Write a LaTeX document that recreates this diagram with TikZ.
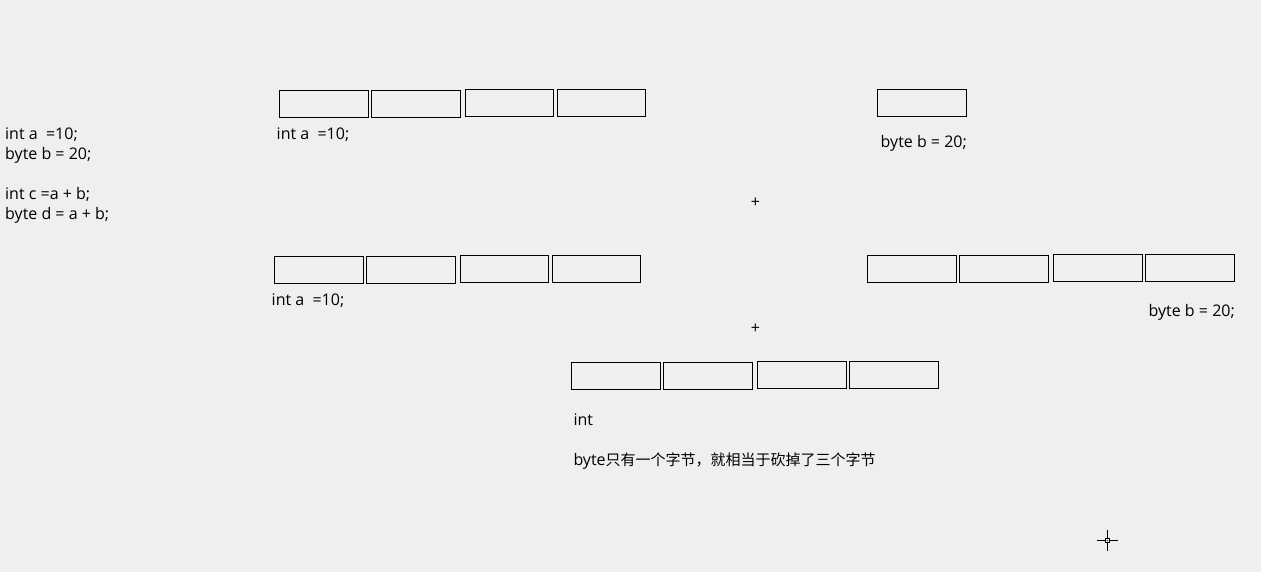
\documentclass[tikz,border=0pt]{standalone}
\usepackage{fontspec}
\setmainfont{Open Sans}
\newfontfamily\cjk{Noto Sans CJK SC}
\usetikzlibrary{positioning}
\definecolor{paper}{RGB}{239,239,239}

\begin{document}
\begin{tikzpicture}[x=1pt, y=-1pt, cell/.style={draw, line width=1pt, minimum width=88.5pt, minimum height=27pt, inner sep=0pt}, txt/.style={inner sep=0pt, font=\fontsize{16}{20}\selectfont}]
		\fill[paper] (0,0) rectangle (1261,572);
		\useasboundingbox (0,0) rectangle (1261,572);

		% code on the left
		\node[txt, anchor=base west, align=left] (code) at (5,219.5) {int a~~=10;\\byte b = 20;\\[19.5pt]int c =a + b;\\byte d = a + b;};

		% int a, top row
		\node[cell] (a1) at (324,104.3) {};
		\node[cell] (a2) [right=2.3pt of a1] {};
		\node[cell] (a3) [right=4.3pt of a2, yshift=1pt] {};
		\node[cell] (a4) [right=2.3pt of a3] {};
		\node[txt, anchor=base west] (la) at (276.5,140) {int a~~=10;};

		% byte b, top row
		\node[cell] (b1) at (921.8,103.3) {};
		\node[txt, anchor=base west] (lb) at (880.5,147.5) {byte b = 20;};

		\node[txt] (p1) at (755.5,203) {+};

		% int a, middle row
		\node[cell] (c1) at (319,270.3) {};
		\node[cell] (c2) [right=2.3pt of c1] {};
		\node[cell] (c3) [right=4.3pt of c2, yshift=1pt] {};
		\node[cell] (c4) [right=2.3pt of c3] {};
		\node[txt, anchor=base west] (lc) at (271.5,305) {int a~~=10;};

		% byte b widened, middle row
		\node[cell] (d1) at (912,269.3) {};
		\node[cell] (d2) [right=2.3pt of d1] {};
		\node[cell] (d3) [right=4.6pt of d2, yshift=1pt] {};
		\node[cell] (d4) [right=2.6pt of d3] {};
		\node[txt, anchor=base east] (ld) at (1235,316.5) {byte b = 20;};

		\node[txt] (p2) at (755.5,329) {+};

		% result
		\node[cell] (e1) at (616,376.3) {};
		\node[cell] (e2) [right=2.6pt of e1] {};
		\node[cell] (e3) [right=4.6pt of e2, yshift=1pt] {};
		\node[cell] (e4) [right=2.3pt of e3] {};
		\node[txt, anchor=base west] (le) at (573.3,425) {int};
		\node[txt, anchor=base west] (note) at (573.3,465) {byte{\cjk\fontsize{15}{20}\selectfont 只有一个字节，就相当于砍掉了三个字节}};

		% cursor
		\draw[line width=1pt] (1096.7,540.3) -- (1104.8,540.3) (1109.8,540.3) -- (1117.7,540.3);
		\draw[line width=1pt] (1107.3,530) -- (1107.3,537.8) (1107.3,542.8) -- (1107.3,550.7);
		\draw[line width=1pt] (1105.3,538.3) rectangle (1109.3,542.3);
		\fill (1107.3,540.3) circle (0.6);
	\end{tikzpicture}
\end{document}
